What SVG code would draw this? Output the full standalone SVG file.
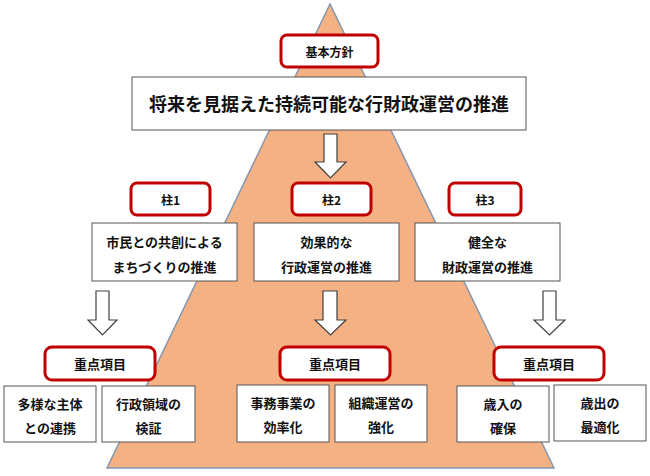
<svg xmlns="http://www.w3.org/2000/svg" width="650" height="476" viewBox="0 0 650 476">
<style>
text{font-family:"Noto Sans CJK JP","Noto Sans CJK SC",sans-serif;font-weight:bold;fill:#111;text-anchor:middle;dominant-baseline:central}
.red{fill:#fff;stroke:#C00000;stroke-width:3}
.box{fill:#fff;stroke:#555;stroke-width:1}
.arr{fill:#fff;stroke:#404040;stroke-width:1.2}
.t12{font-size:12px}.t13{font-size:13px}.t18{font-size:18px}
</style>
<rect width="650" height="476" fill="#fff"/>
<polygon points="330,4 107,468 554,468" fill="#F4B183" stroke="#8496B0" stroke-width="1.5"/>
<g id="connectors">
<polygon class="arr" points="324,134 337,134 337,162 346,162 330.5,178 315,162 324,162"/>
<polygon class="arr" points="96,291 109,291 109,320 117,320 102.5,335 88,320 96,320"/>
<polygon class="arr" points="323,291 337,291 337,320 346,320 330.5,335 315,320 323,320"/>
<polygon class="arr" points="543,291 556,291 556,320 565,320 549.5,335 534,320 543,320"/>
</g>
<g id="kihon"><rect class="red" x="281" y="35" width="97" height="32" rx="6"/><text class="t12" x="329.5" y="51">基本方針</text></g>
<g id="main"><rect class="box" x="132" y="77" width="394" height="53"/><text class="t18" x="329" y="103">将来を見据えた持続可能な行財政運営の推進</text></g>
<g id="hashira1"><rect class="red" x="131" y="183" width="79" height="32" rx="6"/><text class="t12" x="170.5" y="199">柱1</text></g>
<g id="hashira2"><rect class="red" x="292" y="183" width="79" height="32" rx="6"/><text class="t12" x="331.5" y="199">柱2</text></g>
<g id="hashira3"><rect class="red" x="449" y="183" width="72" height="32" rx="6"/><text class="t12" x="485" y="199">柱3</text></g>
<g id="p1"><rect class="box" x="92" y="223" width="145" height="58"/><text class="t13" x="164.5" y="241">市民との共創による</text><text class="t13" x="164.5" y="266">まちづくりの推進</text></g>
<g id="p2"><rect class="box" x="254" y="223" width="145" height="58"/><text class="t13" x="326.5" y="241">効果的な</text><text class="t13" x="326.5" y="266">行政運営の推進</text></g>
<g id="p3"><rect class="box" x="415" y="223" width="145" height="58"/><text class="t13" x="487.5" y="241">健全な</text><text class="t13" x="487.5" y="266">財政運営の推進</text></g>
<g id="juten1"><rect class="red" x="45" y="347" width="110" height="33" rx="7"/><text class="t13" x="100" y="363.5">重点項目</text></g>
<g id="juten2"><rect class="red" x="280" y="347" width="110" height="33" rx="7"/><text class="t13" x="335" y="363.5">重点項目</text></g>
<g id="juten3"><rect class="red" x="494" y="347" width="110" height="33" rx="7"/><text class="t13" x="549" y="363.5">重点項目</text></g>
<g id="b1"><rect class="box" x="4" y="386" width="92" height="56"/><text class="t13" x="50" y="403">多様な主体</text><text class="t13" x="50" y="427">との連携</text></g>
<g id="b2"><rect class="box" x="102" y="386" width="93" height="56"/><text class="t13" x="148.5" y="403">行政領域の</text><text class="t13" x="148.5" y="427">検証</text></g>
<g id="b3"><rect class="box" x="237" y="385" width="92" height="57"/><text class="t13" x="283" y="402">事務事業の</text><text class="t13" x="283" y="426">効率化</text></g>
<g id="b4"><rect class="box" x="335" y="385" width="92" height="57"/><text class="t13" x="381" y="402">組織運営の</text><text class="t13" x="381" y="426">強化</text></g>
<g id="b5"><rect class="box" x="457" y="386" width="92" height="56"/><text class="t13" x="503" y="403">歳入の</text><text class="t13" x="503" y="427">確保</text></g>
<g id="b6"><rect class="box" x="554" y="385" width="92" height="56"/><text class="t13" x="600" y="402">歳出の</text><text class="t13" x="600" y="426">最適化</text></g>
</svg>
